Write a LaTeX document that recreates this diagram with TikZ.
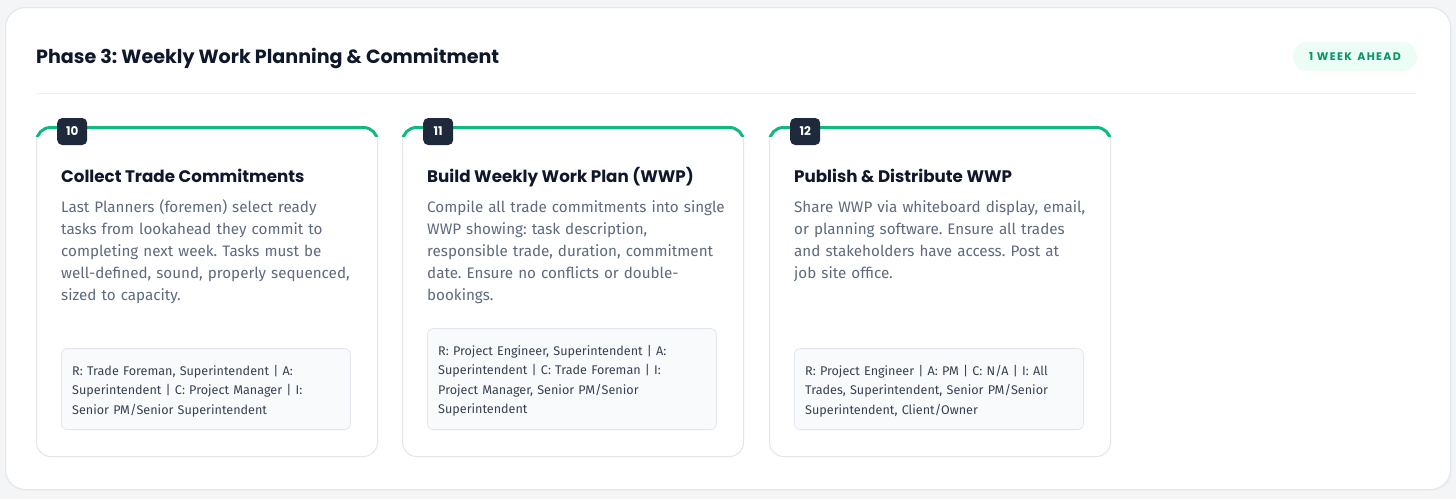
\documentclass[tikz,border=0pt]{standalone}
\usepackage{fontspec}
\setmainfont{Fira Sans}
\newfontfamily\headfont{Poppins}
\frenchspacing
\definecolor{pagebg}{HTML}{F4F5F7}
\definecolor{cardborder}{HTML}{E2E6EC}
\definecolor{sepline}{HTML}{EEF0F3}
\definecolor{headcol}{HTML}{0F172A}
\definecolor{bodycol}{HTML}{5E6A7E}
\definecolor{racicol}{HTML}{374151}
\definecolor{racibg}{HTML}{F8FAFC}
\definecolor{accent}{HTML}{10B981}
\definecolor{badgedark}{HTML}{1E293B}
\definecolor{pilltext}{HTML}{059669}
\definecolor{pillbg}{HTML}{ECFDF5}
\tikzset{
  x=1pt, y=-1pt,
  stepcard/.style={draw=cardborder, line width=1pt, fill=white, rounded corners=14pt,
    minimum width=341pt, minimum height=329pt, anchor=north west, inner sep=0pt},
  numbadge/.style={fill=badgedark, rounded corners=5pt, text=white, font=\headfont\bfseries\fontsize{12}{12}\selectfont,
    minimum height=27pt, minimum width=30pt, inner xsep=6.5pt, anchor=west},
  cardhead/.style={anchor=base west, inner sep=0pt, text=headcol, font=\headfont\bfseries\fontsize{16.7}{20}\selectfont},
  cardbody/.style={anchor=base west, inner sep=0pt, text=bodycol, align=left, text width=310pt,
    font=\fontsize{15.2}{22}\selectfont},
  racibox/.style={draw=cardborder, fill=racibg, rounded corners=6pt, line width=0.8pt,
    minimum width=289pt, anchor=south west, inner sep=0pt},
  racitext/.style={anchor=base west, inner sep=0pt, text=racicol, align=left, text width=285pt,
    font=\fontsize{12.6}{19.5}\selectfont},
}
\newcommand{\stepcardmacro}[8]{%
  % #1 id, #2 x, #3 number, #4 heading, #5 body, #6 raci, #7 raci box height, #8 raci first baseline
  \node[stepcard] (c#1) at (#2,127) {};
  \begin{scope}
    \clip (#2-1,123) rectangle (#2+342,136);
    \draw[accent, line width=3pt, rounded corners=14pt] ([shift={(0.5,-0.5)}]c#1.south west) rectangle ([shift={(-0.5,0.5)}]c#1.north east);
  \end{scope}
  \node[numbadge] (b#1) at (#2+21,131.5) {#3};
  \node[cardhead] (h#1) at (#2+25,182) {#4};
  \node[cardbody] (d#1) at (#2+25,212) {#5};
  \node[racibox, minimum height=#7] (r#1) at (#2+25,430) {};
  \node[racitext] (t#1) at (#2+36,#8) {#6};
}
\begin{document}
\begin{tikzpicture}
\useasboundingbox (0,0) rectangle (1456,499);
\fill[pagebg] (0,0) rectangle (1456,499);
\fill[black!6, rounded corners=20pt] (5,9) rectangle (1452,491);
\node[draw=cardborder, fill=white, rounded corners=20pt, line width=1pt, anchor=north west,
  minimum width=1445pt, minimum height=482pt, inner sep=0pt] (outer) at (5,7) {};
\node[anchor=base west, inner sep=0pt, text=headcol, font=\headfont\bfseries\fontsize{19.1}{22}\selectfont] (title) at (36,63)
  {Phase 3: Weekly Work Planning \& Commitment};
\node[fill=pillbg, rounded corners=14.5pt, minimum width=124pt, minimum height=29pt, inner sep=0pt,
  text=pilltext, font=\headfont\bfseries\fontsize{11}{12}\selectfont] (pill) at (1355,56.5)
  {1\,\,W\kern1.3pt E\kern1.3pt E\kern1.3pt K\,\,\,A\kern1.3pt H\kern1.3pt E\kern1.3pt A\kern1.3pt D};
\coordinate (sepL) at (36,93);
\coordinate (sepR) at (1416,93);
\draw[sepline, line width=1pt] (sepL) -- (sepR);
\stepcardmacro{1}{36}{10}{Collect Trade Commitments}
  {Last Planners (foremen) select ready\\tasks from lookahead they commit to\\completing next week. Tasks must be\\well-defined, sound, properly sequenced,\\sized to capacity.}
  {R: Trade Foreman, Superintendent | A:\\Superintendent | C: Project Manager | I:\\Senior PM/Senior Superintendent}
  {81pt}{375}
\stepcardmacro{2}{402}{11}{Build Weekly Work Plan (WWP)}
  {Compile all trade commitments into single\\WWP showing: task description,\\responsible trade, duration, commitment\\date. Ensure no conflicts or double-\\bookings.}
  {R: Project Engineer, Superintendent | A:\\Superintendent | C: Trade Foreman | I:\\Project Manager, Senior PM/Senior\\Superintendent}
  {101pt}{355}
\stepcardmacro{3}{769}{12}{Publish \& Distribute WWP}
  {Share WWP via whiteboard display, email,\\or planning software. Ensure all trades\\and stakeholders have access. Post at\\job site office.}
  {R: Project Engineer | A: PM | C: N/A | I: All\\Trades, Superintendent, Senior PM/Senior\\Superintendent, Client/Owner}
  {81pt}{375}
\end{tikzpicture}
\end{document}
